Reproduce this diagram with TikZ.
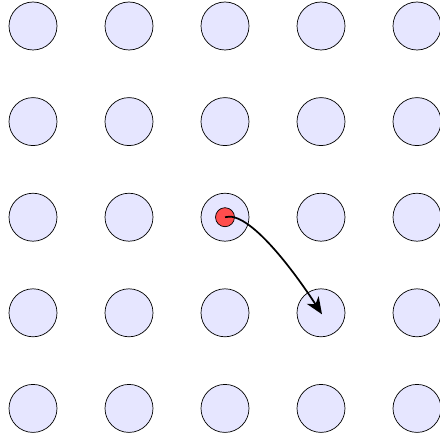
\documentclass[tikz,border=0pt]{standalone}
\usetikzlibrary{arrows.meta}
\definecolor{cfill}{RGB}{230,230,255}
\definecolor{dotred}{RGB}{255,77,77}
\begin{document}
\begin{tikzpicture}[x=1pt,y=-1pt,
  site/.style={circle,draw=black,fill=cfill,line width=0.7pt,minimum size=48pt,inner sep=0pt},
  atom/.style={circle,draw=black,fill=dotred,line width=0.7pt,minimum size=19pt,inner sep=0pt},
  hop/.style={line width=1.7pt,-{Stealth[length=17pt,width=14pt,inset=5pt]}}]
\useasboundingbox (0,0) rectangle (439,441);
\foreach \i in {0,...,4}{
  \foreach \j in {0,...,4}{
    \node[site] (s\i\j) at (33+96*\i, 26+95.6*\j) {};
  }
}
\node[atom] (a) at (s22) {};
\coordinate (a0) at (s22.center);
\coordinate (t) at ([xshift=1pt,yshift=-1.5pt]s33.center);
\draw[hop] (a0) .. controls +(-17:25) and +(-123:50) .. (t);
\end{tikzpicture}
\end{document}
